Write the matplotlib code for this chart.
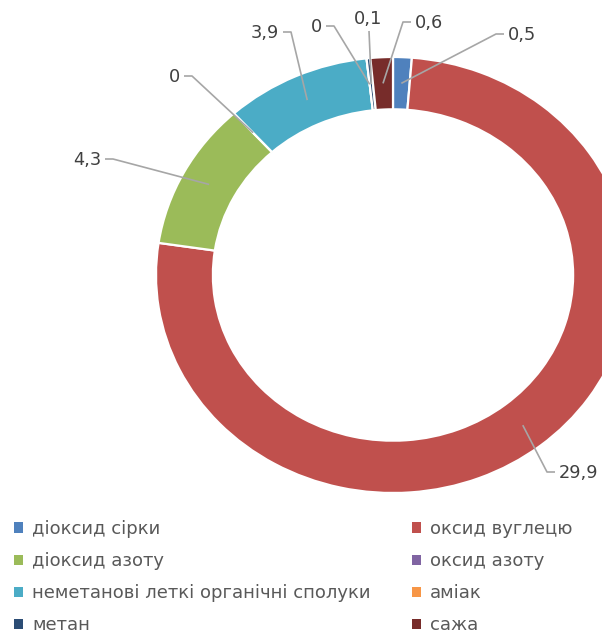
import matplotlib
matplotlib.use('Agg')
import matplotlib.pyplot as plt
from matplotlib.patches import Patch
import numpy as np

names = ['діоксид сірки', 'оксид вуглецю', 'діоксид азоту', 'оксид азоту',
         'неметанові леткі органічні сполуки', 'аміак', 'метан', 'сажа']
values = [0.5, 29.9, 4.3, 0.0, 3.9, 0.0, 0.1, 0.6]
labels = ['0,5', '29,9', '4,3', '0', '3,9', '0', '0,1', '0,6']
colors = ['#4F81BD', '#C0504D', '#9BBB59', '#8064A2',
          '#4BACC6', '#F79646', '#2C4D75', '#772C2A']

# pixel geometry of the (slightly stretched) ring
W, H = 602, 635
cx, cy = 393, 275
sx, sy = 237.0, 218.0

def px(x, y):
    # pixel position -> data coords
    return (x - cx) / sx, (cy - y) / sy

# label text positions (pixels) and alignment
label_pos = [(508, 35, 'left'), (559, 473, 'left'), (101, 160, 'right'),
             (180, 77, 'right'), (279, 33, 'right'), (322, 27, 'right'),
             (368, 19, 'center'), (415, 23, 'left')]

fig = plt.figure(figsize=(W / 100, H / 100), dpi=100)
ax = fig.add_axes([0, 0, 1, 1])

wedges, _ = ax.pie(values, radius=1, startangle=90, counterclock=False,
                   colors=colors,
                   wedgeprops=dict(width=0.24, edgecolor='white', linewidth=1.6))
ax.set_aspect('auto')
ax.set_xlim(-cx / sx, (W - cx) / sx)
ax.set_ylim((cy - H) / sy, cy / sy)
ax.axis('off')

total = sum(values)
cum = 0.0
for v, lab, (tx, ty, ha) in zip(values, labels, label_pos):
    mid = (cum + v / 2) / total * 2 * np.pi
    cum += v
    r = 0.88
    ax0, ay0 = r * np.sin(mid), r * np.cos(mid)
    if ha == 'left':
        pts = [(ax0, ay0), px(tx - 12, ty - 1), px(tx - 4, ty - 1)]
    elif ha == 'right':
        pts = [(ax0, ay0), px(tx + 12, ty - 1), px(tx + 4, ty - 1)]
    else:
        pts = [(ax0, ay0), px(tx + 1, ty + 12)]
    xs, ys = zip(*pts)
    ax.plot(xs, ys, color='#A6A6A6', lw=1.2, solid_capstyle='butt')
    ax.text(*px(tx, ty), lab, ha=ha, va='center', fontsize=12.8, color='#404040')

handles = [Patch(facecolor=c, edgecolor='none') for c in colors]
fs = 13
for col, x0 in [(0, 14), (1, 412)]:
    idx = [col, col + 2, col + 4, col + 6]
    fig.legend([handles[i] for i in idx], [names[i] for i in idx],
               loc='upper left', bbox_to_anchor=(x0 / W, 1 - 520 / H),
               frameon=False, fontsize=fs, handlelength=0.5, handleheight=0.5,
               handletextpad=0.5, labelspacing=0.78, borderpad=0,
               borderaxespad=0, labelcolor='#595959')

fig.savefig('out.png', dpi=100)
